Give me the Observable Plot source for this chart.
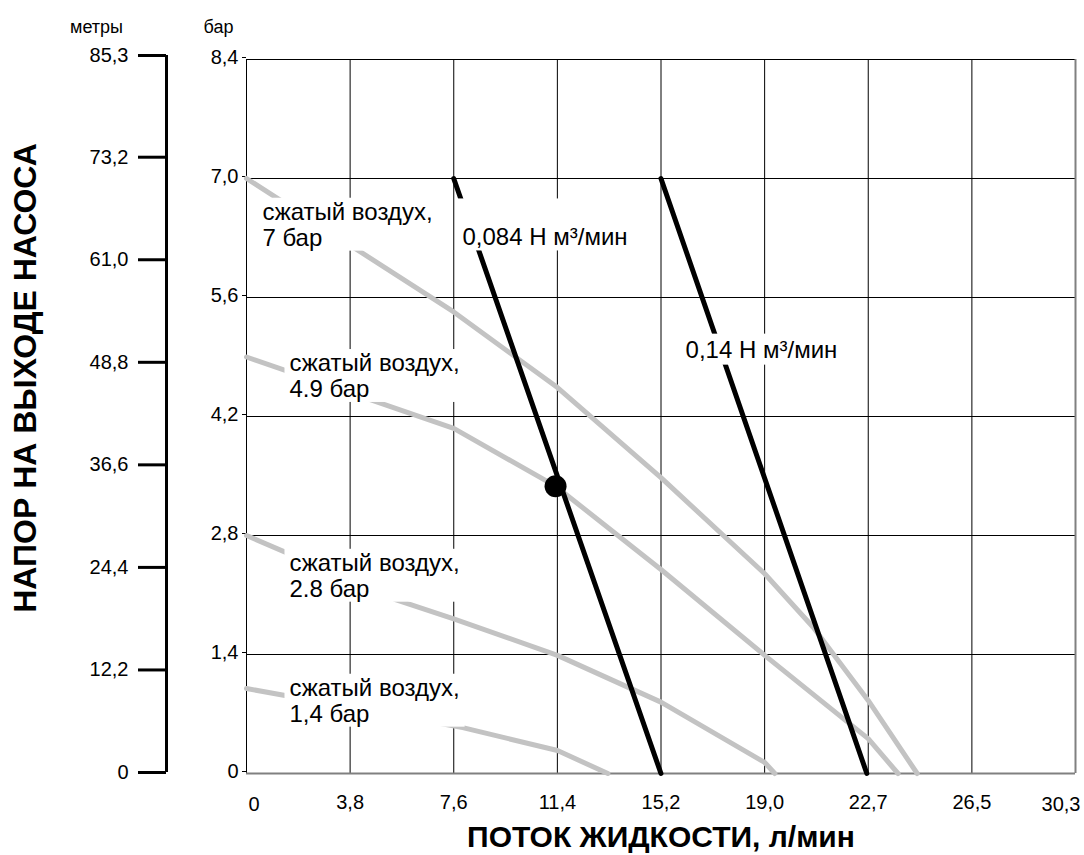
<!DOCTYPE html>
<html><head><meta charset="utf-8">
<script src="https://cdn.jsdelivr.net/npm/d3@7"></script>
<script src="https://cdn.jsdelivr.net/npm/@observablehq/plot@0.6"></script>
<style>
body{margin:0;background:#fff;}
#wrap{position:relative;width:1084px;height:855px;overflow:hidden;}
#wrap svg{position:absolute;top:0;left:0;}
</style></head><body><div id="wrap"></div>
<script>
// ---- tick values / labels ----
const xTickValues = [0, 3.785, 7.571, 11.356, 15.142, 18.927, 22.712, 26.498, 30.283];
const xTickLabels = ["0", "3,8", "7,6", "11,4", "15,2", "19,0", "22,7", "26,5", "30,3"];
const yTickValues = [0, 1.4, 2.8, 4.2, 5.6, 7.0, 8.4];
const yTickLabels = ["0", "1,4", "2,8", "4,2", "5,6", "7,0", "8,4"];
const meterTickValues = [0, 12.2, 24.4, 36.6, 48.8, 61.0, 73.2, 85.3];
const meterTickLabels = ["0", "12,2", "24,4", "36,6", "48,8", "61,0", "73,2", "85,3"];

// ---- pump curves (flow л/мин, head бар) by air pressure ----
const air7Flow  = [0, 7.57, 11.36, 15.14, 18.93, 20.7, 22.71, 24.5];
const air7Head  = [7.0, 5.43, 4.54, 3.48, 2.35, 1.72, 0.86, 0];
const air49Flow = [0, 7.57, 11.29, 15.14, 18.93, 22.71, 23.8];
const air49Head = [4.9, 4.06, 3.38, 2.40, 1.39, 0.41, 0];
const air28Flow = [0, 5.5, 7.57, 11.36, 15.14, 18.93, 19.3];
const air28Head = [2.8, 2.04, 1.82, 1.39, 0.84, 0.13, 0];
const air14Flow = [0, 7.9, 11.36, 13.2];
const air14Head = [1.0, 0.54, 0.27, 0];

// ---- air consumption lines ----
const cons084Flow = [7.57, 15.14];
const cons084Head = [7.0, 0];
const cons14Flow  = [15.14, 22.66];
const cons14Head  = [7.0, 0];

// ---- operating point ----
const pointFlow = [11.29];
const pointHead = [3.38];

// ---- labels ----
const labelTexts = ["сжатый воздух,\n7 бар", "сжатый воздух,\n4.9 бар", "сжатый воздух,\n2.8 бар", "сжатый воздух,\n1,4 бар", "0,084 Н м³/мин", "0,14 Н м³/мин"];
const labelFlow  = [0.58, 1.57, 1.57, 1.57, 7.89, 16.04];
const labelHead  = [6.46, 4.68, 2.33, 0.86, 6.31, 4.99];

const xTitle = "ПОТОК ЖИДКОСТИ, л/мин";
const yTitle = "НАПОР НА ВЫХОДЕ НАСОСА";
const meterUnit = "метры";
const barUnit = "бар";

// ---- build tables ----
const curveSets = [[air7Flow, air7Head, "7"], [air49Flow, air49Head, "4.9"], [air28Flow, air28Head, "2.8"], [air14Flow, air14Head, "1.4"]];
const curves = curveSets.flatMap(([f, h, s]) => f.map((x, i) => ({x, y: h[i], s})));
const consSets = [[cons084Flow, cons084Head, "a"], [cons14Flow, cons14Head, "b"]];
const cons = consSets.flatMap(([f, h, s]) => f.map((x, i) => ({x, y: h[i], s})));
const points = pointFlow.map((x, i) => ({x, y: pointHead[i]}));
const labels = labelTexts.map((t, i) => ({t, x: labelFlow[i], y: labelHead[i]}));

const FONT = "'Liberation Sans', Arial, Helvetica, sans-serif";
const TICK_FS = 20;
const xLast = xTickValues[xTickValues.length - 1];

const main = Plot.plot({
  width: 1084, height: 855,
  marginLeft: 246, marginRight: 9, marginTop: 59, marginBottom: 82,
  style: {fontFamily: FONT, fontSize: "18px", background: "transparent", color: "#000"},
  x: {domain: [0, xLast], label: null},
  y: {domain: [0, 8.4], label: null},
  marks: [
    Plot.ruleX(xTickValues, {stroke: "#000", strokeWidth: 1}),
    Plot.ruleY(yTickValues, {stroke: "#000", strokeWidth: 1}),
    Plot.ruleY([yTickValues[0]], {stroke: "#808080", strokeWidth: 2}),
    Plot.ruleX([xLast], {stroke: "#808080", strokeWidth: 2}),
    Plot.axisY(yTickValues, {tickSize: 4, tickPadding: 4, dy: -2, fontSize: TICK_FS, label: null,
      tickFormat: d => yTickLabels[yTickValues.indexOf(d)]}),
    Plot.axisX(xTickValues.slice(1, -1), {tickSize: 0, tickPadding: 21, fontSize: TICK_FS, label: null,
      tickFormat: d => xTickLabels[xTickValues.indexOf(d)]}),
    Plot.text([xTickValues[0]], {x: d => d, frameAnchor: "bottom", textAnchor: "start", lineAnchor: "middle", dy: 31, dx: 2, fontSize: TICK_FS,
      text: d => xTickLabels[xTickValues.indexOf(d)]}),
    Plot.text([xLast], {x: d => d, frameAnchor: "bottom", textAnchor: "end", lineAnchor: "middle", dy: 31, dx: 5, fontSize: TICK_FS,
      text: d => xTickLabels[xTickValues.indexOf(d)]}),
    Plot.line(curves, {x: "x", y: "y", z: "s", stroke: "#c3c3c3", strokeWidth: 5, strokeLinejoin: "round"}),
    Plot.line(cons, {x: "x", y: "y", z: "s", stroke: "#000", strokeWidth: 5}),
    Plot.dot(points, {x: "x", y: "y", r: 11, fill: "#000", stroke: "none"}),
    Plot.text(labels, {x: "x", y: "y", text: "t", textAnchor: "start", lineAnchor: "middle", fontSize: 24, lineHeight: 1.08, fill: "#000"}),
    Plot.text([xTitle], {frameAnchor: "bottom", textAnchor: "middle", lineAnchor: "middle", dy: 64, fontSize: 30, fontWeight: "bold"}),
    Plot.text([barUnit], {frameAnchor: "top-left", textAnchor: "middle", lineAnchor: "middle", dx: -28, dy: -32, fontSize: 18})
  ]
});

const overlay = Plot.plot({
  width: 246, height: 855,
  marginLeft: 166, marginRight: 0, marginTop: 55, marginBottom: 83,
  style: {fontFamily: FONT, fontSize: "18px", background: "transparent", color: "#000"},
  x: {domain: [0, 1], axis: null},
  y: {domain: [0, meterTickValues[meterTickValues.length - 1]], label: null},
  marks: [
    Plot.axisY(meterTickValues, {anchor: "left", tickSize: 28, tickPadding: 10, strokeWidth: 3, fontSize: TICK_FS, label: null,
      tickFormat: d => meterTickLabels[meterTickValues.indexOf(d)]}),
    Plot.ruleX([0], {stroke: "#000", strokeWidth: 3}),
    Plot.text([yTitle], {frameAnchor: "left", textAnchor: "middle", lineAnchor: "middle", rotate: -90, dx: -141, dy: -36, fontSize: 32, fontWeight: "bold"}),
    Plot.text([meterUnit], {frameAnchor: "top-left", textAnchor: "middle", lineAnchor: "middle", dx: -70, dy: -28, fontSize: 18})
  ]
});

const wrap = document.getElementById("wrap");
wrap.append(main, overlay);

// white boxes behind curve labels
const extraTop = [0, 0, 0, 0, 25, 2];
const extraBottom = [0, 0, 0, 0, 0, 2];
const allTexts = Array.from(main.querySelectorAll("text"));
labelTexts.forEach((lt, i) => {
  const key = lt.replace("\n", "");
  const t = allTexts.find(el => el.textContent === key);
  if (!t) return;
  const b = t.getBBox();
  const r = document.createElementNS("http://www.w3.org/2000/svg", "rect");
  const px = 5;
  r.setAttribute("x", b.x - px);
  r.setAttribute("y", b.y - extraTop[i]);
  r.setAttribute("width", b.width + 2 * px);
  r.setAttribute("height", b.height + extraTop[i] + extraBottom[i]);
  r.setAttribute("fill", "#fff");
  r.setAttribute("stroke", "none");
  if (t.getAttribute("transform")) r.setAttribute("transform", t.getAttribute("transform"));
  const parent = t.parentNode;
  parent.insertBefore(r, parent.firstChild);
});
</script></body></html>
